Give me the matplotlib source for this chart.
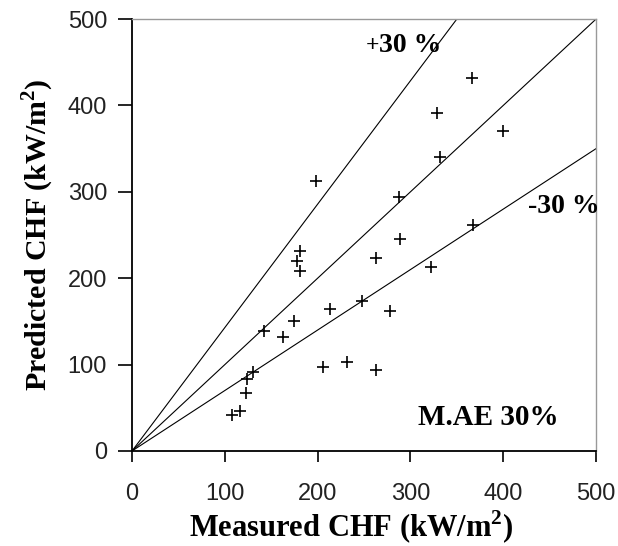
import matplotlib
matplotlib.use("Agg")
import matplotlib.pyplot as plt
import numpy as np

# measured vs predicted CHF (kW/m2)
measured = [366, 329, 400, 332, 198, 288, 367, 289,
            181, 178, 181, 263, 322, 248, 213, 278, 175,
            142, 163, 206, 232, 263, 130, 124, 123, 116, 108]
predicted = [432, 391, 370, 340, 312, 294, 262, 245,
             232, 220, 208, 224, 213, 174, 164, 162, 150,
             139, 132, 97, 103, 94, 91, 83, 67, 46, 42]

line_x = [0, 500]
upper_factor = 1 / 0.7
lower_factor = 0.7

serif = "Liberation Serif"
plt.rcParams["mathtext.fontset"] = "custom"
plt.rcParams["mathtext.rm"] = "Liberation Serif"
plt.rcParams["mathtext.bf"] = "Liberation Serif:bold"

fig = plt.figure(figsize=(6.18, 5.46), dpi=100)
ax = fig.add_axes([0.2136, 0.174, 0.7508, 0.791])

xs = np.array(line_x, dtype=float)
ax.plot(xs, xs, color="black", lw=0.8)
ax.plot(xs, xs * upper_factor, color="black", lw=0.8)
ax.plot(xs, xs * lower_factor, color="black", lw=0.8)
ax.plot(measured, predicted, ls="none", marker="+", ms=9, mew=1.2, color="black")

ax.set_xlim(0, 500)
ax.set_ylim(0, 500)
ax.set_xticks(range(0, 501, 100))
ax.set_yticks(range(0, 501, 100))
ax.tick_params(direction="out", width=1.2, labelsize=17)
ax.tick_params(axis="x", length=8, pad=15)
ax.tick_params(axis="y", length=10, pad=8)
for lab in ax.get_xticklabels() + ax.get_yticklabels():
    lab.set_family("Liberation Sans")
    lab.set_color("#222222")

for side in ("left", "bottom"):
    ax.spines[side].set_linewidth(1.3)
for side in ("top", "right"):
    ax.spines[side].set_color("#999999")
    ax.spines[side].set_linewidth(1.0)

# the "+" of the upper band label is set smaller, as in the source
ax.text(252, 463, "+", family=serif, weight="bold", fontsize=17)
ax.text(266, 462, "30 %", family=serif, weight="bold", fontsize=20)
ax.text(427, 275, "-30 %", family=serif, weight="bold", fontsize=20)
ax.text(308, 30, "M.AE 30%", family=serif, weight="bold", fontsize=21)

fig.text(351 / 618, 1 - 527 / 546, "Measured CHF (kW/m$^\\mathbf{2}$)",
         family=serif, weight="bold", fontsize=22, ha="center", va="center")
fig.text(38 / 618, 1 - 235 / 546, "Predicted CHF (kW/m$^\\mathbf{2}$)",
         family=serif, weight="bold", fontsize=21.5, ha="center", va="center",
         rotation=90)

fig.savefig("out.png", dpi=100)
